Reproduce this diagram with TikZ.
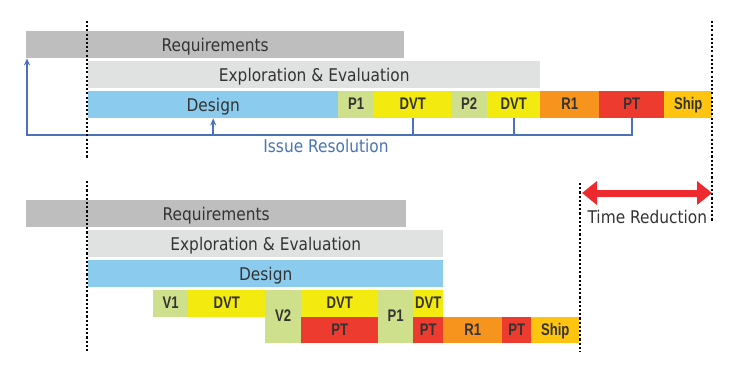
\documentclass[tikz,border=0pt]{standalone}
\usepackage{fontspec}
\setmainfont[FakeStretch=0.88]{DejaVu Sans}
\newfontfamily\segfont[FakeStretch=0.78]{Liberation Sans}
\usetikzlibrary{arrows.meta}
\definecolor{reqgray}{HTML}{BEBEBE}
\definecolor{expgray}{HTML}{E0E1E1}
\definecolor{desblue}{HTML}{8BCBEE}
\definecolor{protgreen}{HTML}{CEE08C}
\definecolor{dvtyellow}{HTML}{F3EA0F}
\definecolor{rorange}{HTML}{F7941E}
\definecolor{ptred}{HTML}{EE3B2F}
\definecolor{shipgold}{HTML}{FFC40F}
\definecolor{issueblue}{HTML}{4A72B8}
\definecolor{textgray}{HTML}{333333}
\definecolor{arrowred}{HTML}{EE2A2F}
\tikzset{
  bar/.style={anchor=north west, inner sep=0pt, minimum height=27pt,
    text height=13pt, text depth=0pt, text=textgray,
    font=\fontsize{17.5}{20}\selectfont},
  seg/.style={bar, text height=12pt, text depth=1.5pt,
    font=\segfont\bfseries\fontsize{16.8}{18}\selectfont},
  issue/.style={draw=issueblue, line width=1.8pt},
  dots/.style={line width=2.3pt, dash pattern=on 2.1pt off 2.1pt},
}

\begin{document}
\begin{tikzpicture}[x=1pt,y=-1pt]
\useasboundingbox (0,0) rectangle (744,385);
% current schedule
\node[bar, fill=reqgray, minimum width=378pt] (req1) at (26,31) {Requirements};
\node[bar, fill=expgray, minimum width=452pt] (exp1) at (88,61) {Exploration \& Evaluation};
\node[bar, fill=desblue, minimum width=250pt] (design1) at (88,91) {Design};
\node[seg, fill=protgreen, minimum width=36pt] (p1a) at (338,91) {P1};
\node[seg, fill=dvtyellow, minimum width=77pt] (dvt1) at (374,91) {DVT};
\node[seg, fill=protgreen, minimum width=36pt] (p2a) at (451,91) {P2};
\node[seg, fill=dvtyellow, minimum width=53pt] (dvt2) at (487,91) {DVT};
\node[seg, fill=rorange, minimum width=59pt] (r1a) at (540,91) {R1};
\node[seg, fill=ptred, minimum width=65pt] (pt1) at (599,91) {PT};
\node[seg, fill=shipgold, minimum width=48pt] (ship1) at (664,91) {Ship};
\draw[issue, -{Stealth[length=7pt,width=6pt]}] (pt1.south) -- ++(0,17) coordinate (ir)
  -| ([xshift=1pt]req1.south west);
\draw[issue, -{Stealth[length=7pt,width=6pt]}] (design1.south |- ir) -- (design1.south);
\draw[issue] (dvt1.south) -- (dvt1.south |- ir);
\draw[issue] (dvt2.south) -- (dvt2.south |- ir);
\node[anchor=base, text=issueblue, font=\fontsize{17.5}{20}\selectfont] (issue) at (326,153) {Issue Resolution};

% reduced schedule
\node[bar, fill=reqgray, minimum width=380pt] (req2) at (26,200) {Requirements};
\node[bar, fill=expgray, minimum width=355pt] (exp2) at (88,230) {Exploration \& Evaluation};
\node[bar, fill=desblue, minimum width=355pt] (design2) at (88,260) {Design};
\node[seg, fill=protgreen, minimum width=35pt] (v1) at (153,290) {V1};
\node[seg, fill=dvtyellow, minimum width=77pt] (dvt3) at (188,290) {DVT};
\node[seg, fill=protgreen, minimum width=36pt, minimum height=53pt] (v2) at (265,290) {V2};
\node[seg, fill=dvtyellow, minimum width=77pt] (dvt4) at (301,290) {DVT};
\node[seg, fill=ptred, minimum width=77pt, minimum height=26pt] (pt2) at (301,317) {PT};
\node[seg, fill=protgreen, minimum width=35pt, minimum height=53pt] (p1b) at (378,290) {P1};
\node[seg, fill=dvtyellow, minimum width=30pt] (dvt5) at (413,290) {DVT};
\node[seg, fill=ptred, minimum width=30pt, minimum height=26pt] (pt3) at (413,317) {PT};
\node[seg, fill=rorange, minimum width=59pt, minimum height=26pt] (r1b) at (443,317) {R1};
\node[seg, fill=ptred, minimum width=29pt, minimum height=26pt] (pt4) at (502,317) {PT};
\node[seg, fill=shipgold, minimum width=48pt, minimum height=26pt] (ship2) at (531,317) {Ship};

% time lines
\coordinate (s1) at (87,21);  \coordinate (s2) at (87,158);
\coordinate (s3) at (87,181); \coordinate (s4) at (87,352);
\coordinate (e1) at (712,21); \coordinate (e2) at (712,221);
\coordinate (e3) at (580,183); \coordinate (e4) at (580,352);
\draw[dots] (s1) -- (s2) (s3) -- (s4) (e1) -- (e2) (e3) -- (e4);
\coordinate (tr1) at (582,193); \coordinate (tr2) at (712,193);
\draw[arrowred, line width=7pt, {Triangle[length=15pt,width=23pt]}-{Triangle[length=15pt,width=23pt]}] (tr1) -- (tr2);
\node[anchor=base west, text=textgray, font=\fontsize{17.5}{20}\selectfont] (reduce) at (584,223) {Time Reduction};
\end{tikzpicture}
\end{document}
